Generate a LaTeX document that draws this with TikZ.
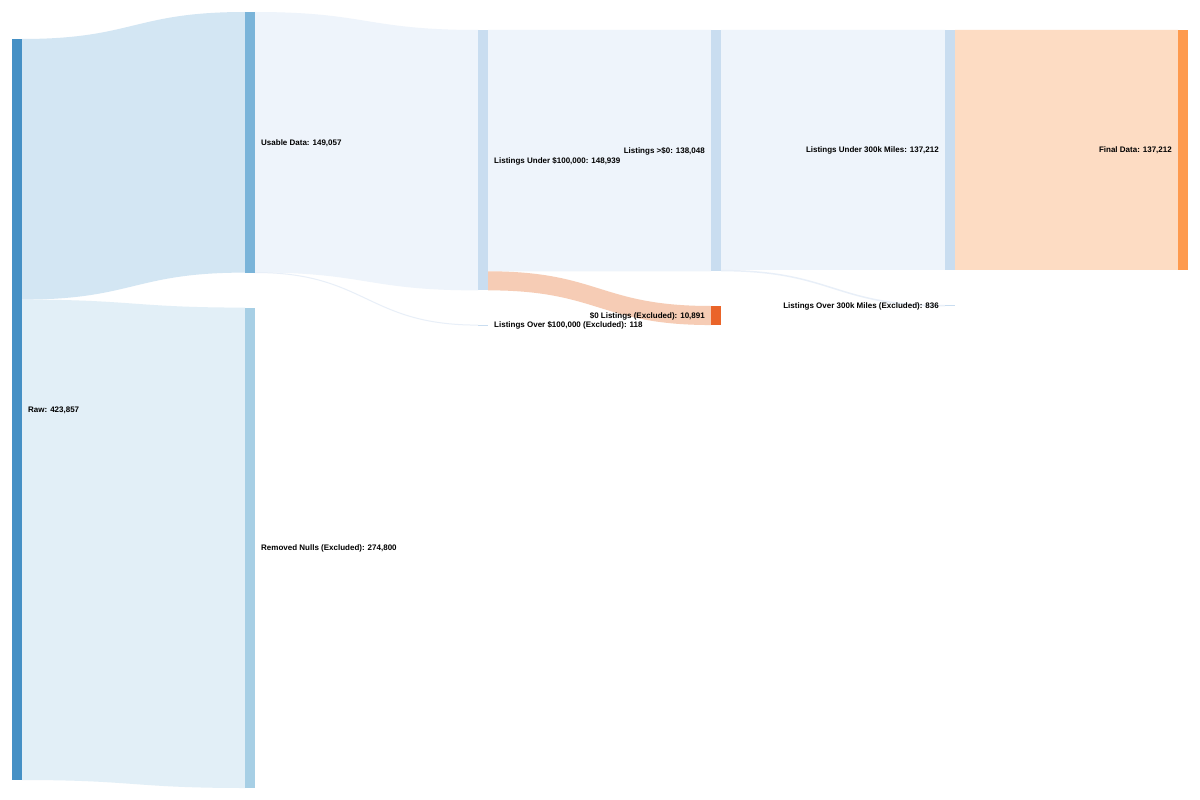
\documentclass[tikz,border=0pt]{standalone}
\usepackage{fontspec}
\setmainfont{Liberation Sans}
\usetikzlibrary{calc}
\definecolor{cRaw}{HTML}{4590C5}
\definecolor{cUsable}{HTML}{7AB4D9}
\definecolor{cRemoved}{HTML}{A7CFE5}
\definecolor{cMid}{HTML}{C9DDF0}
\definecolor{cZero}{HTML}{EA6429}
\definecolor{cFinal}{HTML}{FE9A4E}
\definecolor{lRawUsable}{HTML}{D3E6F3}
\definecolor{lRawRemoved}{HTML}{E2EFF7}
\definecolor{lMid}{HTML}{EEF4FB}
\definecolor{lZero}{HTML}{F6CCB5}
\definecolor{lFinal}{HTML}{FDDCC3}
\definecolor{lThin}{HTML}{E8EFF8}
\newcommand\sband[4]{\fill[#1] (#2) .. controls +(111.5,0) and +(-111.5,0) .. (#3) -- ($(#3)+(0,#4)$) .. controls +(-111.5,0) and +(111.5,0) .. ($(#2)+(0,#4)$) -- cycle;}
\begin{document}
\begin{tikzpicture}[x=1pt,y=-1pt,
  bar/.style={draw=none,inner sep=0pt,outer sep=0pt,minimum width=10pt,anchor=north west},
  lbl/.style={font=\fontsize{8}{9.6}\selectfont\bfseries,text=black,inner sep=0pt,yshift=-2.8pt},
  lblR/.style={lbl,anchor=base west,xshift=6pt},
  lblL/.style={lbl,anchor=base east,xshift=-6pt},
  thinlink/.style={draw=lThin}]
\useasboundingbox (0,0) rectangle (1200,800);
\fill[white] (0,0) rectangle (1200,800);
% node bars (positions)
\path
  node[bar,fill=cRaw,minimum height=741pt] (raw) at (12,39) {}
  node[bar,fill=cUsable,minimum height=260.6pt] (usable) at (245,12) {}
  node[bar,fill=cRemoved,minimum height=480.4pt] (removed) at (245,307.6) {}
  node[bar,fill=cMid,minimum height=260.4pt] (u100) at (478,30) {}
  node[bar,fill=cMid,minimum height=0.2pt] (o100) at (478,325) {}
  node[bar,fill=cMid,minimum height=241.3pt] (gt0) at (711,30) {}
  node[bar,fill=cZero,minimum height=19.04pt] (zero) at (711,306) {}
  node[bar,fill=cMid,minimum height=239.9pt] (u300) at (945,30) {}
  node[bar,fill=cMid,minimum height=1.46pt] (o300) at (945,305) {}
  node[bar,fill=cFinal,minimum height=239.9pt] (final) at (1178,30) {};
% split points
\coordinate (rawB) at ($(raw.north east)+(0,260.6)$);
\coordinate (u100B) at ($(u100.north east)+(0,241.3)$);
\coordinate (usableT) at ($(usable.north east)+(0,260.5)$);
\coordinate (gt0T) at ($(gt0.north east)+(0,240.6)$);
% links
\sband{lRawUsable}{raw.north east}{usable.north west}{260.6}
\sband{lRawRemoved}{rawB}{removed.north west}{480.4}
\sband{lMid}{usable.north east}{u100.north west}{260.4}
\draw[thinlink,line width=1pt] (usableT) .. controls +(111.5,0) and +(-111.5,0) .. (o100.west);
\sband{lMid}{u100.north east}{gt0.north west}{241.3}
\sband{lZero}{u100B}{zero.north west}{19.04}
\sband{lMid}{gt0.north east}{u300.north west}{239.9}
\draw[thinlink,line width=1.46pt] (gt0T) .. controls +(112,0) and +(-112,0) .. (o300.west);
\sband{lFinal}{u300.north east}{final.north west}{239.9}
% redraw bars on top
\foreach \n/\c in {raw/cRaw,usable/cUsable,removed/cRemoved,u100/cMid,o100/cMid,gt0/cMid,zero/cZero,u300/cMid,o300/cMid,final/cFinal}
  \fill[\c] (\n.north west) rectangle (\n.south east);
% labels
\node[lblR] (traw) at (raw.east) {Raw: 423,857};
\node[lblR] (tusable) at (usable.east) {Usable Data: 149,057};
\node[lblR] (tremoved) at (removed.east) {Removed Nulls (Excluded): 274,800};
\node[lblR] (tu100) at (u100.east) {Listings Under \$100,000: 148,939};
\node[lblR] (to100) at (o100.east) {Listings Over \$100,000 (Excluded): 118};
\node[lblL] (tgt0) at (gt0.west) {Listings >\$0: 138,048};
\node[lblL] (tzero) at (zero.west) {\$0 Listings (Excluded): 10,891};
\node[lblL] (tu300) at (u300.west) {Listings Under 300k Miles: 137,212};
\node[lblL] (to300) at (o300.west) {Listings Over 300k Miles (Excluded): 836};
\node[lblL] (tfinal) at (final.west) {Final Data: 137,212};
\end{tikzpicture}
\end{document}
